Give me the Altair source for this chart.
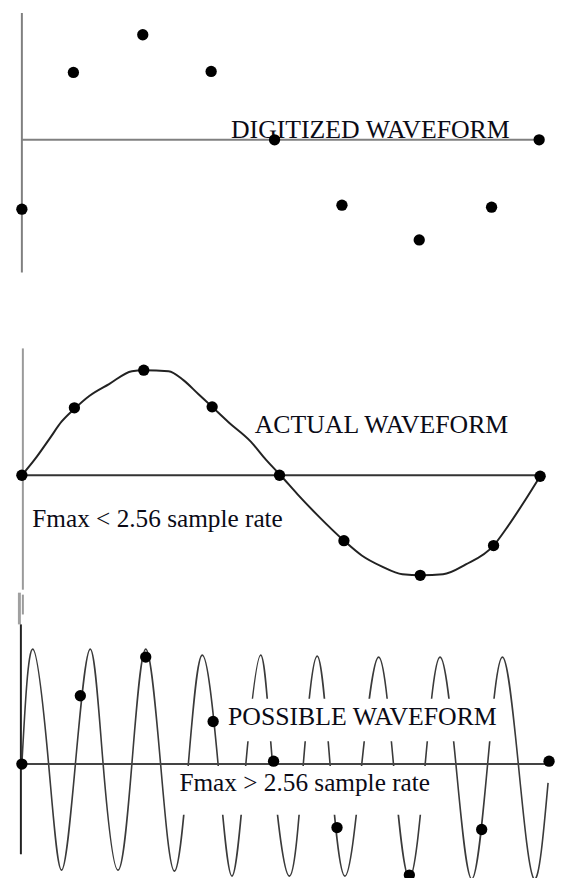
import altair as alt
import pandas as pd

# ---------------- data (time t, amplitude a; arbitrary units) -------------
# Panel 1: digitized waveform (samples only)
DIG_T = [0, 52, 122, 191, 255, 323, 401, 474, 522]
DIG_A = [-70, 68, 106, 69, 0, -66, -101, -68, 0]

# Panel 2: actual waveform (curve + samples)
ACT_CURVE_T = [0, 13, 28, 40, 53, 68, 88, 111, 123, 148, 163, 178, 192, 208, 231, 246,
               261, 278, 298, 325, 343, 363, 384, 403, 425, 448, 476, 488, 508, 523]
ACT_CURVE_A = [0, 16, 37, 54, 67, 80, 92, 105, 106, 105, 96, 82, 69, 54, 34, 16,
               0, -19, -40, -66, -81, -92, -100, -101, -100, -90, -71, -55, -25, -1]
ACT_T = [0, 53, 123, 192, 260, 325, 402, 476, 523]
ACT_A = [0, 68, 106, 69, 0, -66, -101, -71, -1]

# Panel 3: possible (aliased) waveform (curve + samples)
POS_CURVE_T = [0, 11, 27, 40, 54, 69, 82, 97, 111, 125, 140, 154, 168, 182, 198, 212,
               226, 241, 253, 270, 284, 298, 311, 326, 343, 360, 375, 391, 407, 422,
               438, 454, 470, 485, 501, 517, 531]
POS_CURVE_A = [0, 116, 0, -107, 0, 116, 0, -107, 0, 116, 0, -108, 0, 110, 0, -113,
               0, 110, 0, -113, 0, 109, 0, -113, 0, 108, 0, -115, 0, 108,
               0, -116, 0, 108, 0, -116, -19]
POS_T = [0, 59, 125, 193, 254, 318, 391, 464, 532]
POS_A = [0, 69, 108, 43, 3, -64, -112, -66, 3]

# Labels
LBL1 = ["DIGITIZED WAVEFORM"]
LBL2 = ["ACTUAL WAVEFORM"]
LBL2B = ["Fmax < 2.56 sample rate"]
LBL3 = ["POSSIBLE WAVEFORM"]
LBL3B = ["Fmax > 2.56 sample rate"]

# ---------------- layout constants (positions / styles) ----------------
W = 547
X_DOM = [-14, 533]
FONT = "Liberation Serif"
FS_CAPS = 26
FS_LOWER = 25.5
DOT = 130

def xs():
    return alt.Scale(domain=X_DOM, nice=False, zero=False)

def ys(dom):
    return alt.Scale(domain=dom, nice=False, zero=False)

def hline(t1, color, dom, width=2, t0=0, a=0):
    df = pd.DataFrame({"t0": [t0], "t1": [t1], "a": [a]})
    return alt.Chart(df).mark_rule(color=color, strokeWidth=width).encode(
        x=alt.X("t0:Q", scale=xs(), axis=None), x2="t1:Q",
        y=alt.Y("a:Q", scale=ys(dom), axis=None))

def vline(a0, a1, color, dom, width=2, t=0):
    df = pd.DataFrame({"t": [t], "a0": [a0], "a1": [a1]})
    return alt.Chart(df).mark_rule(color=color, strokeWidth=width).encode(
        x=alt.X("t:Q", scale=xs(), axis=None),
        y=alt.Y("a0:Q", scale=ys(dom), axis=None), y2="a1:Q")

def dots(ts, as_, dom):
    df = pd.DataFrame({"t": ts, "a": as_})
    return alt.Chart(df).mark_point(filled=True, color="black", opacity=1, size=DOT).encode(
        x=alt.X("t:Q", scale=xs(), axis=None),
        y=alt.Y("a:Q", scale=ys(dom), axis=None))

def curve(ts, as_, dom, interp, color, width):
    df = pd.DataFrame({"t": ts, "a": as_, "o": list(range(len(ts)))})
    return alt.Chart(df).mark_line(color=color, strokeWidth=width, interpolate=interp).encode(
        x=alt.X("t:Q", scale=xs(), axis=None),
        y=alt.Y("a:Q", scale=ys(dom), axis=None), order="o:Q")

def labels(texts, ts, as_, dom, fs):
    df = pd.DataFrame({"label": texts, "t": ts, "a": as_})
    return alt.Chart(df).mark_text(align="left", baseline="alphabetic", font=FONT,
                                   fontSize=fs, color="#0b0b16").encode(
        x=alt.X("t:Q", scale=xs(), axis=None),
        y=alt.Y("a:Q", scale=ys(dom), axis=None), text="label:N")

def boxes(t0, t1, a0, a1, dom):
    df = pd.DataFrame({"t0": t0, "t1": t1, "a0": a0, "a1": a1})
    return alt.Chart(df).mark_rect(color="white").encode(
        x=alt.X("t0:Q", scale=xs(), axis=None), x2="t1:Q",
        y=alt.Y("a0:Q", scale=ys(dom), axis=None), y2="a1:Q")

# ---------------- panel 1 ----------------
DOM1 = [-154, 128]
p1 = alt.layer(
    vline(128, -134, "#808080", DOM1),
    hline(523, "#808080", DOM1),
    labels(LBL1, [211], [2], DOM1, FS_CAPS),
    dots(DIG_T, DIG_A, DOM1),
).properties(width=W, height=282)

# ---------------- panel 2 ----------------
DOM2 = [-115.5, 184.5]
p2 = alt.layer(
    vline(128, -115.5, "#9a9a9a", DOM2, 2, 1),
    hline(523, "#333333", DOM2),
    curve(ACT_CURVE_T, ACT_CURVE_A, DOM2, "monotone", "#222222", 2),
    labels(LBL2, [235], [42.5], DOM2, FS_CAPS),
    labels(LBL2B, [10.5], [-52], DOM2, FS_LOWER),
    dots(ACT_T, ACT_A, DOM2),
).properties(width=W, height=300)

# ---------------- panel 3 ----------------
DOM3 = [-109, 171]
p3 = alt.layer(
    curve(POS_CURVE_T, POS_CURVE_A, DOM3, "natural", "#3a3a3a", 1.6),
    boxes([203, 154], [481, 415], [66, -2], [23, -51], DOM3),
    vline(171, 151, "#9a9a9a", DOM3, 2, 1),
    vline(173, 141, "#a0a0a0", DOM3, 3, -2.5),
    vline(141, -91, "#222222", DOM3, 2, -1),
    hline(533, "#444444", DOM3),
    dots(POS_T, POS_A, DOM3),
    labels(LBL3, [208], [39], DOM3, FS_CAPS),
    labels(LBL3B, [159], [-27], DOM3, FS_LOWER),
).properties(width=W, height=280)

chart = alt.vconcat(p1, p2, p3, spacing=0).properties(padding=0).configure_view(stroke=None)

chart.save("out.html", embed_options={"renderer": "svg", "actions": False})
